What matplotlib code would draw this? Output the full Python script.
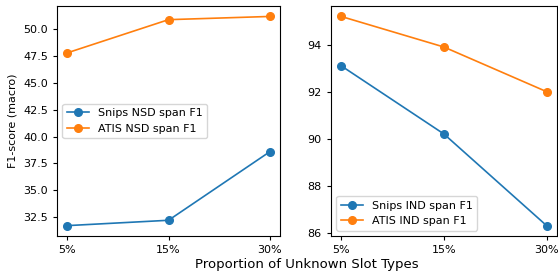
import matplotlib
matplotlib.use("Agg")
import matplotlib.pyplot as plt

x_labels = ["5%", "15%", "30%"]
snips_nsd = [31.7, 32.2, 38.6]
atis_nsd = [47.8, 50.9, 51.2]
snips_ind = [93.1, 90.2, 86.3]
atis_ind = [95.2, 93.9, 92.0]

fs = 8
fig = plt.figure(figsize=(5.58, 2.72), dpi=100)
ax1 = fig.add_axes([0.102, 0.132, 0.400, 0.846])
ax2 = fig.add_axes([0.593, 0.132, 0.405, 0.846])

xs = range(len(x_labels))
ax1.plot(xs, snips_nsd, marker="o", ms=5.5, lw=1.2, color="#1f77b4", label="Snips NSD span F1")
ax1.plot(xs, atis_nsd, marker="o", ms=5.5, lw=1.2, color="#ff7f0e", label="ATIS NSD span F1")
ax2.plot(xs, snips_ind, marker="o", ms=5.5, lw=1.2, color="#1f77b4", label="Snips IND span F1")
ax2.plot(xs, atis_ind, marker="o", ms=5.5, lw=1.2, color="#ff7f0e", label="ATIS IND span F1")

for ax in (ax1, ax2):
    ax.set_xticks(list(xs))
    ax.set_xticklabels(x_labels)
    ax.tick_params(labelsize=fs, length=3)
ax1.set_yticks([32.5, 35.0, 37.5, 40.0, 42.5, 45.0, 47.5, 50.0])
ax2.set_yticks([86, 88, 90, 92, 94])

ax1.set_ylabel("F1-score (macro)", fontsize=fs)
ax1.legend(loc="center left", fontsize=fs)
ax2.legend(loc="lower left", fontsize=fs)
fig.text(0.55, 0.015, "Proportion of Unknown Slot Types", ha="center", fontsize=9.5)

fig.savefig("out.png", dpi=100)
